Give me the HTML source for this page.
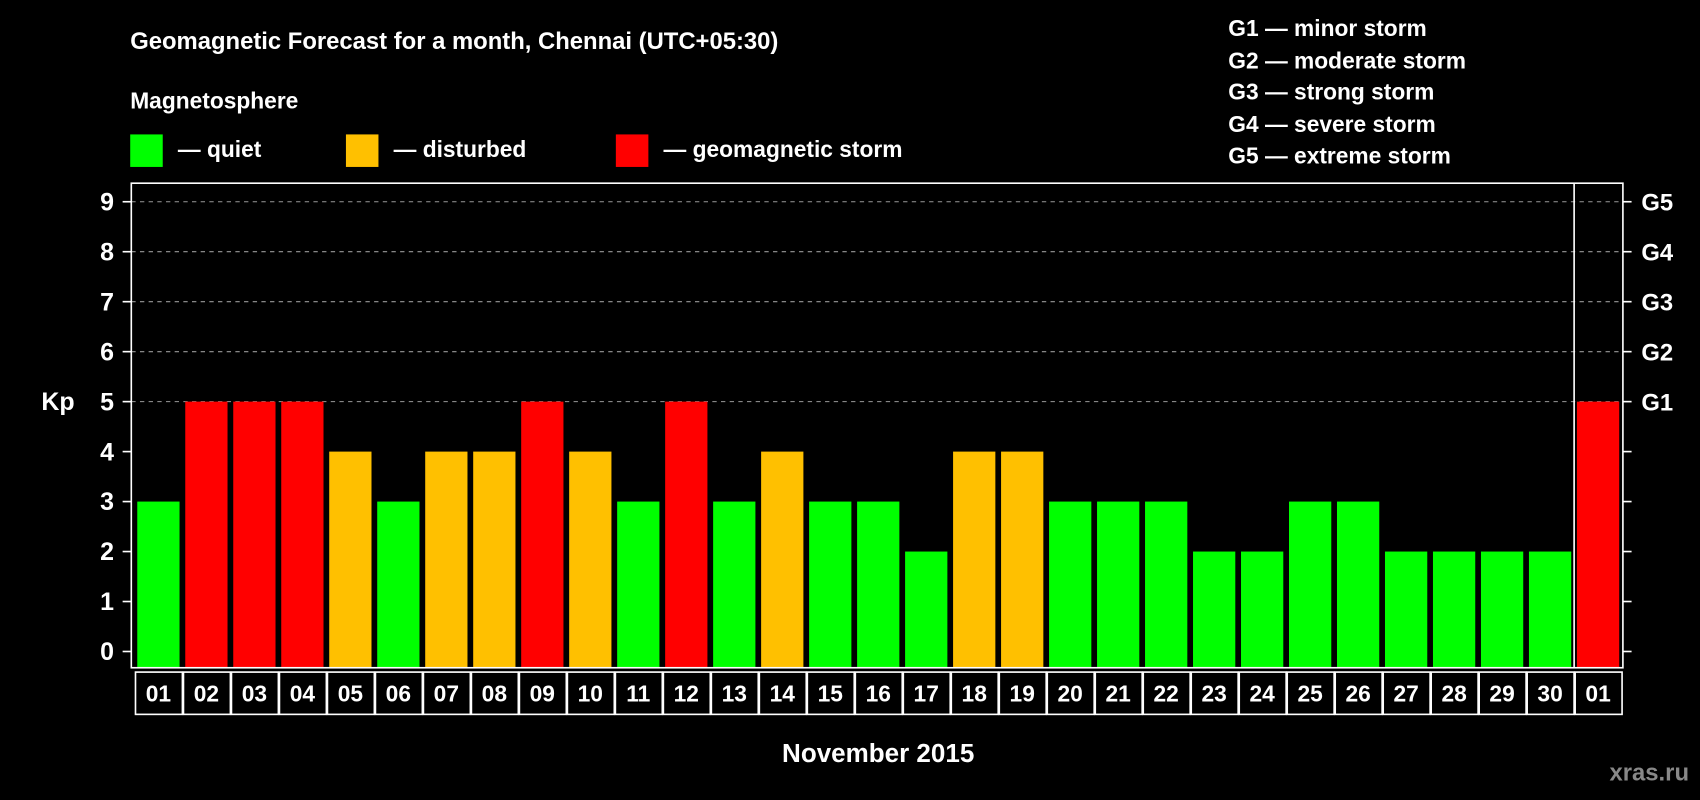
<!DOCTYPE html>
<html><head><meta charset="utf-8"><style>
html,body{margin:0;padding:0;background:#000;}
svg{display:block;font-family:"Liberation Sans",Arial,sans-serif;font-weight:bold;}
</style></head><body>
<svg id="chart" width="1700" height="800" viewBox="0 0 1568 738" xmlns="http://www.w3.org/2000/svg">
<rect width="1568" height="738" fill="#000"/>
<text x="120" y="45" fill="#fff" font-size="22">Geomagnetic Forecast for a month, Chennai (UTC+05:30)</text>
<text x="120" y="100" fill="#fff" font-size="21">Magnetosphere</text>
<g><rect x="120" y="124" width="30" height="30" fill="#00ff00"/><text x="164" y="145" fill="#fff" font-size="21">— quiet</text></g>
<g><rect x="319" y="124" width="30" height="30" fill="#ffc000"/><text x="363" y="145" fill="#fff" font-size="21">— disturbed</text></g>
<g><rect x="568" y="124" width="30" height="30" fill="#ff0000"/><text x="612" y="145" fill="#fff" font-size="21">— geomagnetic storm</text></g>
<g fill="#fff" font-size="21">
<text x="1133" y="33">G1 — minor storm</text>
<text x="1133" y="63">G2 — moderate storm</text>
<text x="1133" y="92">G3 — strong storm</text>
<text x="1133" y="122">G4 — severe storm</text>
<text x="1133" y="151">G5 — extreme storm</text>
</g>
<text x="38" y="378" fill="#fff" font-size="23">Kp</text>
<text x="810" y="703" fill="#fff" font-size="24" text-anchor="middle">November 2015</text>
<text x="1558" y="720" fill="#888" font-size="22" text-anchor="end">xras.ru</text>
<g id="grid"></g>
<g id="bars"></g>
<g id="axes"></g>
<g id="dates"></g>
</svg>
<script>
const days = ["01","02","03","04","05","06","07","08","09","10","11","12","13","14","15","16","17","18","19","20","21","22","23","24","25","26","27","28","29","30","01"];
const kpValues = [3,5,5,5,4,3,4,4,5,4,3,5,3,4,3,3,2,4,4,3,3,3,2,2,3,3,2,2,2,2,5];
const yTicks = [0,1,2,3,4,5,6,7,8,9];
const gLabels = ["G1","G2","G3","G4","G5"];
const gLevels = [5,6,7,8,9];

const NS = "http://www.w3.org/2000/svg";
const L = 121, R = 1497, T = 169, B = 616, SEP = 1452;
const x0 = 146, pitch = 44.27, bw = 39;
function xc(i){ return x0 + i*pitch; }
function y(v){ return 601 - v*46.1; }
function mk(tag, attrs, parent){ const e = document.createElementNS(NS, tag); for (const k in attrs) e.setAttribute(k, attrs[k]); parent.appendChild(e); return e; }
function col(v){ return v >= 5 ? "#ff0000" : (v >= 4 ? "#ffc000" : "#00ff00"); }

const grid = document.getElementById("grid");
gLevels.forEach((g, i) => {
  const ln = mk("line", {x1:L, x2:R, y1:y(g), y2:y(g), stroke:"#999", "stroke-width":1, "stroke-dasharray":"4,4"}, grid);
  
  
  const t = mk("text", {x:1514, y:y(g)+8, fill:"#fff", "font-size":22}, grid);
  t.textContent = gLabels[i];
  
  
});

const bars = document.getElementById("bars");
kpValues.forEach((v, i) => {
  const r = mk("rect", {x:xc(i)-bw/2, y:y(v), width:bw, height:B - y(v), fill:col(v)}, bars);
  
  
});

const axes = document.getElementById("axes");
const frame = mk("rect", {x:L, y:T, width:R-L, height:B-T, fill:"none", stroke:"#fff", "stroke-width":1.5}, axes);


const sep = mk("line", {x1:SEP, x2:SEP, y1:T, y2:B, stroke:"#fff", "stroke-width":1.5}, axes);


yTicks.forEach(v => {
  mk("line", {x1:L-8, x2:L, y1:y(v), y2:y(v), stroke:"#fff", "stroke-width":1.5}, axes);
  mk("line", {x1:R, x2:R+8, y1:y(v), y2:y(v), stroke:"#fff", "stroke-width":1.5}, axes);
  const t = mk("text", {x:105, y:y(v)+8, fill:"#fff", "font-size":23, "text-anchor":"end"}, axes);
  t.textContent = v;
  
  
});

const dates = document.getElementById("dates");
days.forEach((d, i) => {
  const c = mk("rect", {x:xc(i)-pitch/2+1, y:620, width:pitch-1, height:39, fill:"none", stroke:"#fff", "stroke-width":1.5}, dates);
  
  
  const t = mk("text", {x:xc(i), y:647, fill:"#fff", "font-size":21, "text-anchor":"middle"}, dates);
  t.textContent = d;
  
  
});
</script>
</body></html>
